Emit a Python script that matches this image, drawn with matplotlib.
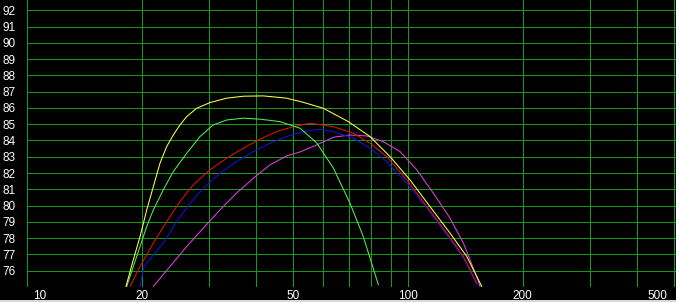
import matplotlib
matplotlib.use("Agg")
import matplotlib.pyplot as plt
import matplotlib.transforms as mtransforms
from matplotlib.patches import Rectangle

# curves (x = frequency, y = level)
yellow_x = [18.19, 19.01, 19.80, 20.62, 21.46, 22.34, 23.26, 24.21, 25.21, 26.26, 27.88, 30.22, 33.43,
            36.97, 41.71, 48.0, 53.2, 59.9, 69.7, 79.5, 89.7, 101.2, 114.2, 128.9, 142.6, 156.1]
yellow_y = [75.04, 76.67, 78.10, 79.74, 81.17, 82.61, 83.63, 84.34, 84.96, 85.47, 85.98, 86.33, 86.60,
            86.72, 86.74, 86.60, 86.34, 85.98, 85.16, 84.24, 83.01, 81.58, 79.94, 78.31, 76.88, 75.04]

green_x = [18.27, 19.01, 19.80, 20.62, 21.46, 22.79, 24.21, 26.26, 28.44, 30.83, 33.43, 36.97, 40.88,
           46.1, 52.1, 57.6, 63.7, 70.4, 76.3, 83.6]
green_y = [75.04, 76.26, 77.49, 78.72, 79.74, 80.97, 82.09, 83.22, 84.24, 84.96, 85.26, 85.37, 85.31,
           85.16, 84.75, 83.85, 82.30, 80.15, 78.10, 75.14]

red_x = [18.64, 19.80, 21.46, 23.26, 25.21, 27.32, 30.22, 33.43, 36.97, 40.88, 45.2, 50.0, 55.3,
         63.7, 71.8, 79.5, 87.9, 99.2, 112.0, 126.4, 139.7, 151.4]
red_y = [75.04, 76.26, 77.70, 79.02, 80.25, 81.28, 82.20, 82.91, 83.53, 84.08, 84.55, 84.85, 85.06,
         84.85, 84.45, 83.83, 83.01, 81.58, 79.94, 78.31, 76.88, 75.25]

blue_x = [19.80, 20.28, 22.79, 24.71, 26.79, 29.02, 32.1, 35.5, 39.3, 43.4, 48.0, 53.1, 58.7,
          63.7, 71.8, 79.5, 87.9, 99.2, 112.0, 126.4, 139.7, 151.4]
blue_y = [75.04, 76.26, 77.70, 79.02, 80.15, 81.07, 81.99, 82.71, 83.32, 83.83, 84.24, 84.55, 84.69,
          84.55, 84.14, 83.53, 82.71, 81.38, 79.85, 78.21, 76.78, 75.14]

magenta_x = [21.46, 23.73, 26.26, 29.02, 32.1, 35.5, 39.3, 43.4, 48.0, 52.1, 57.6, 63.7, 70.4,
             77.9, 86.1, 95.3, 105.4, 116.5, 128.9, 139.7, 151.4, 154.5]
magenta_y = [75.04, 76.26, 77.49, 78.62, 79.74, 80.77, 81.69, 82.50, 83.05, 83.30, 83.73, 84.20, 84.34,
             84.28, 83.93, 83.32, 82.20, 80.77, 79.23, 77.70, 75.65, 75.04]

x_grid = [10, 20, 30, 40, 50, 60, 70, 80, 90, 100, 200, 300, 400, 500]
x_labels = {10: "10", 20: "20", 50: "50", 100: "100", 200: "200", 500: "500"}
y_grid = list(range(75, 93))
y_labels = list(range(76, 93))

W, H = 676, 302
fig = plt.figure(figsize=(W / 100, H / 100), dpi=100, facecolor="black")
ax = fig.add_axes([27 / W, 15 / H, 649 / W, 287 / H], facecolor="black")

grid_col = "#169a16"
glw = 0.6
lw = 0.75
for gx in x_grid:
    ax.axvline(gx, color=grid_col, lw=glw, zorder=1, antialiased=False)
for gy in y_grid:
    ax.axhline(gy, color=grid_col, lw=glw, zorder=1, antialiased=False)

ax.plot(magenta_x, magenta_y, color="#e040e0", lw=lw, zorder=3)
ax.plot(blue_x, blue_y, color="#1010e8", lw=lw, zorder=3)
ax.plot(red_x, red_y, color="#e01010", lw=lw, zorder=3)
ax.plot(green_x, green_y, color="#50f050", lw=lw, zorder=3)
ax.plot(yellow_x, yellow_y, color="#ffff50", lw=lw, zorder=4)

ax.set_xscale("log")
ax.set_xlim(10, 505)
ax.set_ylim(75, 92.63)

ax.set_xticks(list(x_labels.keys()))
ax.set_xticklabels(list(x_labels.values()))
ax.xaxis.set_minor_locator(matplotlib.ticker.NullLocator())
ax.set_yticks(y_labels)
ax.set_yticklabels([str(v) for v in y_labels])
ax.tick_params(colors="white", length=0, labelsize=8.5)
ax.tick_params(axis="y", pad=8)
ax.tick_params(axis="x", pad=2)
for lab in ax.get_xticklabels() + ax.get_yticklabels():
    lab.set_fontfamily("Liberation Sans")

xl = ax.get_xticklabels()
xl[0].set_horizontalalignment("left")
xl[0].set_transform(xl[0].get_transform() + mtransforms.ScaledTranslation(6 / 100, 0, fig.dpi_scale_trans))
xl[-1].set_horizontalalignment("right")
xl[-1].set_transform(xl[-1].get_transform() + mtransforms.ScaledTranslation(-7 / 100, 0, fig.dpi_scale_trans))

for s in ax.spines.values():
    s.set_visible(False)

fig.patches.append(Rectangle((0, 0), 1, 2 / H, transform=fig.transFigure,
                             facecolor="#d8d8d8", edgecolor="none"))

fig.savefig("out.png", dpi=100, facecolor="black")
